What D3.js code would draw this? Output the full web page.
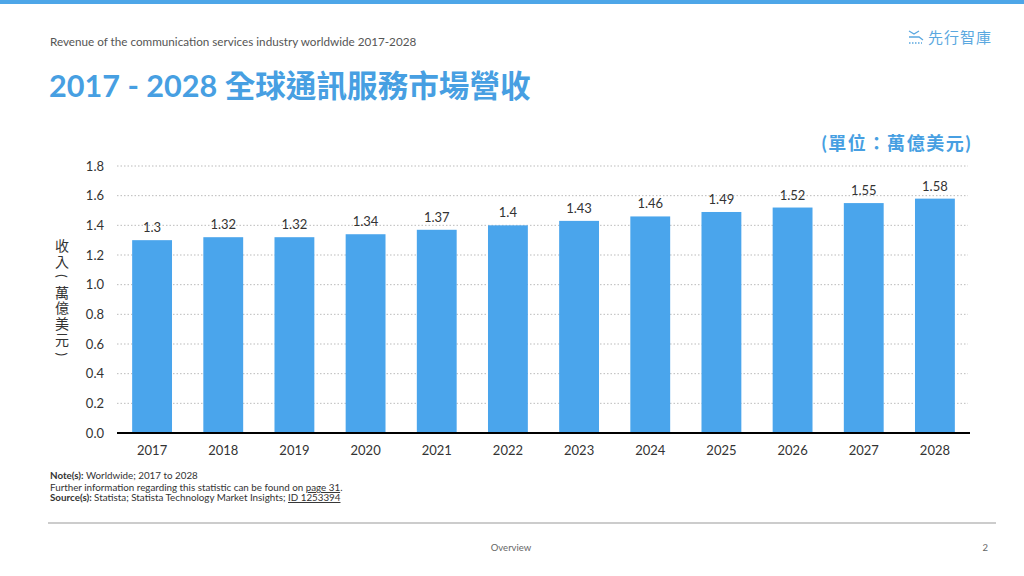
<!DOCTYPE html>
<html><head><meta charset="utf-8">
<script src="https://cdn.jsdelivr.net/npm/d3@7"></script>
<style>
html,body{margin:0;padding:0;background:#fff;}
svg text{font-family:Lato,"Noto Sans CJK TC",sans-serif;}
</style></head>
<body>
<svg id="c" width="1024" height="576"></svg>
<script>
const years = ["2017","2018","2019","2020","2021","2022","2023","2024","2025","2026","2027","2028"];
const revenue = [1.3,1.32,1.32,1.34,1.37,1.4,1.43,1.46,1.49,1.52,1.55,1.58];
const yTicks = [0,0.2,0.4,0.6,0.8,1.0,1.2,1.4,1.6,1.8];
const labels = ["1.3","1.32","1.32","1.34","1.37","1.4","1.43","1.46","1.49","1.52","1.55","1.58"];
const yTitleChars = ["收","入","(","萬","億","美","元",")"];

const svg = d3.select("#c");
const blue = "#4aa5ec";
const titleBlue = "#479fe2";

svg.append("rect").attr("x",0).attr("y",0).attr("width",1024).attr("height",4).attr("fill","#4da6e8");

svg.append("text").attr("x",50).attr("y",46).attr("font-size",11.7).attr("fill","#555")
  .text("Revenue of the communication  services industry worldwide  2017-2028");
svg.append("text").attr("x",49).attr("y",97).attr("font-size",30.6).attr("font-weight","bold").attr("fill",titleBlue)
  .text("2017 - 2028 全球通訊服務市場營收");

// logo
const lg = svg.append("g").attr("fill","none").attr("stroke","#5aa8e0").attr("stroke-width",1.3);
lg.append("path").attr("d","M909 31 L914 34 L919 31");
lg.append("path").attr("d","M909 37 L919 37 L923 40");
lg.append("path").attr("d","M909 43 L922 43").attr("stroke-dasharray","1.5,1.5");
svg.append("text").attr("x",928).attr("y",43).attr("font-size",15).attr("fill","#5aa8e0").attr("letter-spacing",1)
  .text("先行智庫");

svg.append("text").attr("x",972).attr("y",150).attr("text-anchor","end").attr("font-size",18).attr("font-weight","bold").attr("fill",titleBlue).attr("letter-spacing",1.6)
  .text("(單位：萬億美元)");

const x = d3.scaleBand().domain(years).range([116.5,970.5]).paddingInner(0.44).paddingOuter(0.22);
const y = d3.scaleLinear().domain([0,1.8]).range([433,166]);

// grid
svg.append("g").selectAll("line").data(yTicks.filter(d=>d>0)).join("line")
  .attr("x1",117).attr("x2",968).attr("y1",d=>y(d)).attr("y2",d=>y(d))
  .attr("stroke","#aaa").attr("stroke-width",0.8).attr("stroke-dasharray","1.5,2");

// y axis labels
const ya = svg.append("g").attr("transform","translate(104,0)")
  .call(d3.axisLeft(y).tickValues(yTicks).tickFormat(d3.format(".1f")).tickSize(0).tickPadding(0));
ya.select(".domain").remove();
ya.selectAll("text").attr("font-size",13).attr("fill","#333").style("font-family","Lato,sans-serif");

// bars
svg.append("g").selectAll("rect").data(revenue).join("rect")
  .attr("x",(d,i)=>x(years[i])).attr("width",x.bandwidth())
  .attr("y",d=>y(d)).attr("height",d=>y(0)-y(d)).attr("fill",blue);

// labels
svg.append("g").selectAll("text").data(revenue).join("text")
  .attr("x",(d,i)=>x(years[i])+x.bandwidth()/2).attr("y",d=>y(d)-8)
  .attr("text-anchor","middle").attr("font-size",13).attr("fill","#333")
  .text((d,i)=>labels[i]);

// x axis
const xa = svg.append("g").attr("transform","translate(0,433)")
  .call(d3.axisBottom(x).tickSize(0).tickPadding(13));
xa.select(".domain").attr("stroke","#000").attr("stroke-width",2.2).attr("d","M117,0H970");
xa.selectAll("text").attr("font-size",13).attr("fill","#333").style("font-family","Lato,sans-serif");

// y axis title: upright CJK chars, brackets turned 90°, each centred on its slot
const yg = svg.append("g").selectAll("g").data(yTitleChars).join("g")
  .attr("transform",(d,i)=>`translate(62,${245+i*15.6})`)
  .append("g").attr("transform",d=>(d==="("||d===")") ? "rotate(90)" : null);
yg.append("text").attr("font-size",d=>(d==="("||d===")") ? 13 : 14).attr("fill","#333")
  .style("font-family",d=>(d==="("||d===")") ? "Lato,sans-serif" : "'Noto Sans CJK TC',sans-serif")
  .text(d=>d)
  .each(function(){
    const b = this.getBBox();
    d3.select(this).attr("x",-(b.x+b.width/2)).attr("y",-(b.y+b.height/2));
  });

// notes
const notes = svg.append("g").attr("font-size",9.8).attr("fill","#333");
const n1 = notes.append("text").attr("x",50).attr("y",479);
n1.append("tspan").attr("font-weight","bold").text("Note(s): ");
n1.append("tspan").text("Worldwide; 2017 to 2028");
const n2 = notes.append("text").attr("x",50).attr("y",491);
n2.append("tspan").text("Further  information regarding this statistic can be found on ");
n2.append("tspan").attr("text-decoration","underline").text("page 31");
n2.append("tspan").text(".");
const n3 = notes.append("text").attr("x",50).attr("y",501);
n3.append("tspan").attr("font-weight","bold").text("Source(s): ");
n3.append("tspan").text("Statista; Statista Technology Market  Insights; ");
n3.append("tspan").attr("text-decoration","underline").text("ID 1253394");

svg.append("line").attr("x1",48).attr("x2",996).attr("y1",523).attr("y2",523).attr("stroke","#999").attr("stroke-width",1);
svg.append("text").attr("x",511).attr("y",551).attr("text-anchor","middle").attr("font-size",9.5).attr("fill","#666").text("Overview");
svg.append("text").attr("x",988).attr("y",551).attr("text-anchor","end").attr("font-size",9.5).attr("fill","#666").text("2");
</script>
</body></html>
